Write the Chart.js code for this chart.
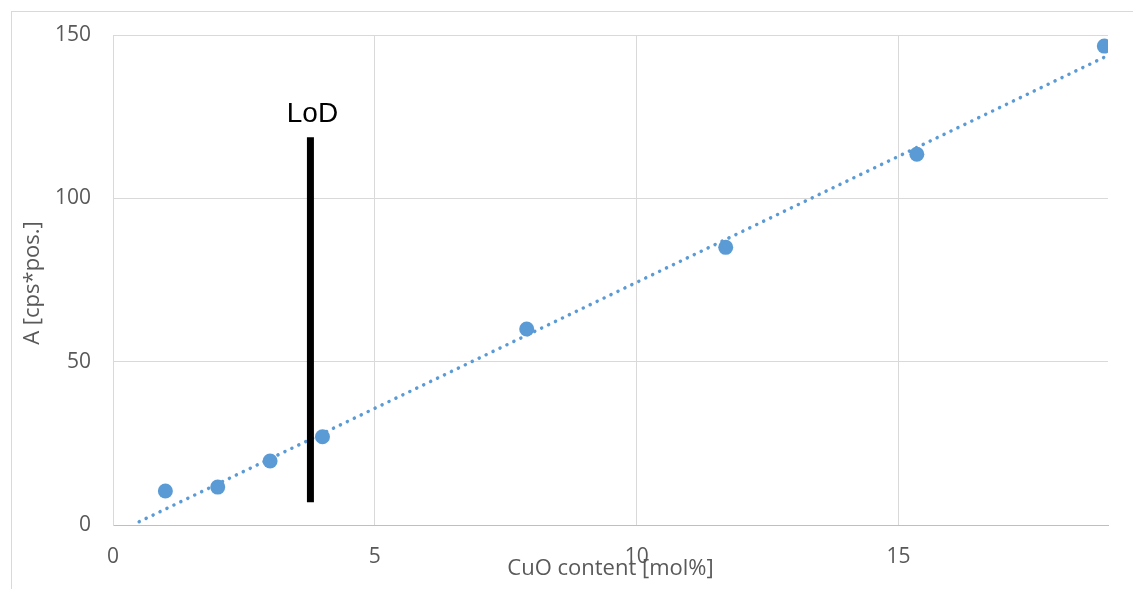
<!DOCTYPE html>
<html><head><meta charset="utf-8">
<script src="https://cdn.jsdelivr.net/npm/chart.js@4"></script>
<style>
html,body{margin:0;padding:0;background:#fff;overflow:hidden}
#frame{position:absolute;left:11px;top:11px;width:1300px;height:800px;border:1px solid #d9d9d9;box-sizing:border-box}
#wrap{position:absolute;left:0;top:0;width:1133px;height:589px}
</style></head><body>
<div id="frame"></div>
<div id="wrap"><canvas id="c" width="1133" height="589"></canvas></div>
<script>
const cuoContent = [1, 2, 3, 4, 7.9, 11.7, 15.35, 18.93];
const areaValues = [10.4, 11.6, 19.6, 27, 60, 85, 113.5, 146.6];
const trendX = [0.5, 18.93];
const trendY = [1.0, 143.2];
const lodX = [3.77, 3.77];
const lodY = [7, 118.7];
const lodLabel = 'LoD';
const xTicks = [0, 5, 10, 15];
const yTicks = [0, 50, 100, 150];
const xTitle = 'CuO content [mol%]';
const yTitle = 'A [cps*pos.]';

const BLUE = '#5b9bd5';
const GREY = '#595959';
const FONT = '"Open Sans", Lato, sans-serif';

const toXY = (xs, ys) => xs.map((x, i) => ({x, y: ys[i]}));

const overlay = {
  id: 'overlay',
  afterDatasetsDraw(chart) {
    const ctx = chart.ctx, sx = chart.scales.x, sy = chart.scales.y;
    ctx.save();
    ctx.fillStyle = '#000';
    ctx.font = '28px "Liberation Sans", Arial, sans-serif';
    ctx.textAlign = 'center';
    ctx.textBaseline = 'alphabetic';
    ctx.fillText(lodLabel, sx.getPixelForValue(lodX[0]) + 2, sy.getPixelForValue(lodY[1]) - 15);
    ctx.restore();
  },
  afterDraw(chart) {
    const ctx = chart.ctx, ca = chart.chartArea;
    ctx.save();
    ctx.fillStyle = GREY;
    ctx.font = '22px ' + FONT;
    ctx.textAlign = 'center';
    ctx.textBaseline = 'middle';
    ctx.fillText(xTitle, (ca.left + ca.right) / 2, 569);
    ctx.translate(33, (ca.top + ca.bottom) / 2 + 3);
    ctx.rotate(-Math.PI / 2);
    ctx.font = '22px ' + FONT;
    ctx.fillText(yTitle, 0, 0);
    ctx.restore();
  }
};

new Chart(document.getElementById('c'), {
  type: 'scatter',
  data: {
    datasets: [
      {
        label: 'data',
        data: toXY(cuoContent, areaValues),
        backgroundColor: BLUE,
        borderWidth: 0,
        pointRadius: 7.5,
        order: 3
      },
      {
        label: 'trend',
        type: 'line',
        data: toXY(trendX, trendY),
        borderColor: BLUE,
        borderWidth: 3.5,
        borderDash: [0.1, 7.6],
        borderCapStyle: 'round',
        pointRadius: 0,
        fill: false,
        order: 2
      },
      {
        label: 'lod',
        type: 'line',
        data: toXY(lodX, lodY),
        borderColor: '#000',
        borderWidth: 7,
        borderCapStyle: 'butt',
        pointRadius: 0,
        fill: false,
        order: 1
      }
    ]
  },
  options: {
    responsive: false,
    animation: false,
    devicePixelRatio: 1,
    layout: {padding: {left: 0, right: 25, top: 35, bottom: 0}},
    plugins: {legend: {display: false}, tooltip: {enabled: false}},
    scales: {
      x: {
        type: 'linear', min: 0, max: 19,
        afterBuildTicks: s => { s.ticks = xTicks.map(v => ({value: v})); },
        afterFit: s => { s.height = 64; },
        grid: {color: '#d9d9d9', drawTicks: false, lineWidth: 1},
        border: {color: '#bfbfbf', width: 1},
        ticks: {color: GREY, font: {family: FONT, size: 21}, padding: 19, maxRotation: 0}
      },
      y: {
        type: 'linear', min: 0, max: 150,
        afterBuildTicks: s => { s.ticks = yTicks.map(v => ({value: v})); },
        afterFit: s => { s.width = 113; },
        grid: {color: '#d9d9d9', drawTicks: false, lineWidth: 1},
        border: {color: '#d9d9d9', width: 1},
        ticks: {color: GREY, font: {family: FONT, size: 21}, padding: 22}
      }
    }
  },
  plugins: [overlay]
});
</script>
</body></html>
